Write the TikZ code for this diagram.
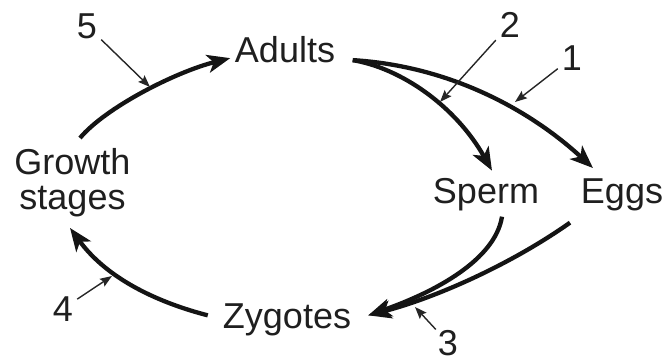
\documentclass[tikz,border=0pt]{standalone}
\usepackage{fontspec}
\setmainfont{Liberation Sans}
\usetikzlibrary{arrows.meta}
\begin{document}
\begin{tikzpicture}[x=1pt,y=-1pt,
  lbl/.style={font=\fontsize{36}{35}\selectfont, text=black!88, inner sep=0pt},
  num/.style={font=\fontsize{36}{35}\selectfont, text=black!88, inner sep=4pt},
  mainarrow/.style={line width=4.3pt, black!92, -{Stealth[length=23pt,width=18pt,inset=6pt]}},
  pointer/.style={line width=1.4pt, black!85, -{Stealth[length=12pt,width=9pt,inset=2pt]}}]
\useasboundingbox (0,0) rectangle (670,362);
% labels
\node[lbl, anchor=base] (adults) at (285,62) {Adults};
\node[lbl, anchor=north, align=center] (growth) at (72.5,148) {Growth\\stages};
\node[lbl, anchor=base] (sperm) at (486,203) {Sperm};
\node[lbl, anchor=base] (eggs) at (622,203) {Eggs};
\node[lbl, anchor=base] (zygotes) at (287,328) {Zygotes};
% numbers
\node[num, anchor=base] (n5) at (87,38) {5};
\node[num, anchor=base] (n2) at (510,37) {2};
\node[num, anchor=base] (n1) at (572,70) {1};
\node[num, anchor=base] (n4) at (63,321) {4};
\node[num, anchor=base, inner sep=2pt] (n3) at (448,355) {3};
% main cycle
\draw[mainarrow] ([shift={(7.5pt,10pt)}]growth.north) .. controls (105,108) and (175,72) .. ([shift={(-4.5pt,-9pt)}]adults.west);
\draw[mainarrow] ([shift={(17.5pt,-11pt)}]adults.east) .. controls (450,66) and (530,110) .. ([shift={(-29pt,10pt)}]eggs.north);
\draw[mainarrow] ([shift={(17.5pt,-11pt)}]adults.east) .. controls (400,68) and (455,105) .. ([shift={(6pt,7pt)}]sperm.north);
\draw[mainarrow] ([shift={(16pt,-6pt)}]sperm.south) .. controls (495,260) and (435,292) .. ([shift={(17pt,4pt)}]zygotes.east);
\draw[mainarrow] ([shift={(-52pt,-12pt)}]eggs.south) .. controls (510,265) and (435,298) .. ([shift={(17pt,4pt)}]zygotes.east);
\draw[mainarrow] ([shift={(-15pt,4pt)}]zygotes.west) .. controls (160,303) and (108,280) .. ([shift={(-2.5pt,-11pt)}]growth.south);
% pointer targets on the curves
\coordinate (t5) at (150,87);
\coordinate (t2) at (440,102);
\coordinate (t1) at (515,102);
\coordinate (t4) at (112,276);
\coordinate (t3) at (415,307);
\draw[pointer] (n5) -- (t5);
\draw[pointer] (n2) -- (t2);
\draw[pointer] (n1) -- (t1);
\draw[pointer] (n4) -- (t4);
\draw[pointer] (n3) -- (t3);
\end{tikzpicture}
\end{document}
